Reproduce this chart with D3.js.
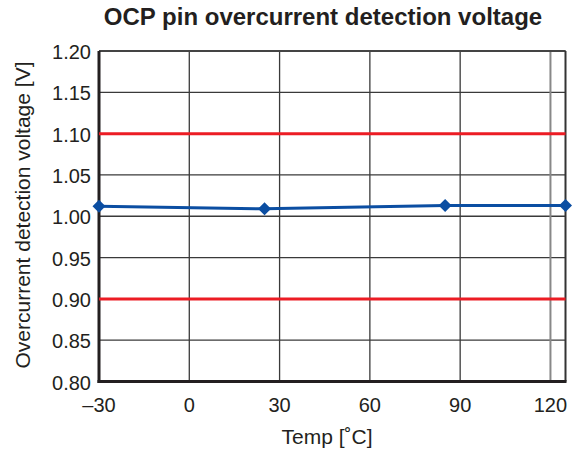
<!DOCTYPE html>
<html><head><meta charset="utf-8">
<script src="https://cdn.jsdelivr.net/npm/d3@7"></script>
<style>body{margin:0;background:#fff}svg{display:block}text{font-family:"Liberation Sans",Arial,sans-serif;fill:#231f20}</style>
</head><body><svg id="c" width="581" height="455"></svg>
<script>
const temps = [-30, 25, 85, 125];
const voltages = [1.012, 1.009, 1.013, 1.013];
const limitHigh = 1.10;
const limitLow = 0.90;
const xTicks = [-30, 0, 30, 60, 90, 120];
const yTicks = [0.80, 0.85, 0.90, 0.95, 1.00, 1.05, 1.10, 1.15, 1.20];
const title = "OCP pin overcurrent detection voltage";
const xLabel = "Temp [˚C]";
const yLabel = "Overcurrent detection voltage [V]";

const L = 99, R = 565.5, T = 51, B = 381.5;
const svg = d3.select("#c");
const x = d3.scaleLinear().domain([-30, 125]).range([L, R]);
const y = d3.scaleLinear().domain([0.80, 1.20]).range([B, T]);

// grid
svg.append("g").selectAll("line").data(yTicks).join("line")
  .attr("x1", L).attr("x2", R).attr("y1", d => y(d)).attr("y2", d => y(d))
  .attr("stroke", "#3a3a3a").attr("stroke-width", 1.3);
svg.append("g").selectAll("line").data(xTicks).join("line")
  .attr("y1", T).attr("y2", B).attr("x1", d => x(d)).attr("x2", d => x(d))
  .attr("stroke", d => d === 120 ? "#888" : "#3a3a3a").attr("stroke-width", d => d === 120 ? 2 : 1.3);

// frame
svg.append("line").attr("x1", L).attr("x2", R).attr("y1", T).attr("y2", T).attr("stroke", "#444").attr("stroke-width", 2);
svg.append("line").attr("x1", R).attr("x2", R).attr("y1", T).attr("y2", B).attr("stroke", "#333").attr("stroke-width", 2);
svg.append("line").attr("x1", L).attr("x2", L).attr("y1", T).attr("y2", B + 1.5).attr("stroke", "#231f20").attr("stroke-width", 3);
svg.append("line").attr("x1", L - 1.5).attr("x2", R + 1).attr("y1", B).attr("y2", B).attr("stroke", "#231f20").attr("stroke-width", 3);

// limit lines
svg.append("g").selectAll("line").data([limitHigh, limitLow]).join("line")
  .attr("x1", L).attr("x2", R).attr("y1", d => y(d)).attr("y2", d => y(d))
  .attr("stroke", "#ec1c24").attr("stroke-width", 3);

// series
const pts = temps.map((t, i) => [t, voltages[i]]);
svg.append("path").datum(pts)
  .attr("d", d3.line().x(d => x(d[0])).y(d => y(d[1])))
  .attr("fill", "none").attr("stroke", "#0b4ea2").attr("stroke-width", 3);
svg.append("g").selectAll("path").data(pts).join("path")
  .attr("transform", d => `translate(${x(d[0])},${y(d[1])})`)
  .attr("d", "M0,-6.5L6.5,0L0,6.5L-6.5,0Z").attr("fill", "#0b4ea2");

// tick labels
svg.append("g").selectAll("text").data(yTicks).join("text")
  .attr("x", 91).attr("y", d => y(d)).attr("dy", "0.4em").attr("text-anchor", "end")
  .attr("font-size", 20).text(d => d.toFixed(2));
svg.append("g").selectAll("text").data(xTicks).join("text")
  .attr("x", d => x(d)).attr("y", 412).attr("text-anchor", "middle")
  .attr("font-size", 20).text(d => d < 0 ? "–" + Math.abs(d) : d);

// labels
svg.append("text").attr("x", 323).attr("y", 25).attr("text-anchor", "middle")
  .attr("font-size", 24).attr("font-weight", "bold").text(title);
svg.append("text").attr("x", 327).attr("y", 443.5).attr("text-anchor", "middle")
  .attr("font-size", 21).text(xLabel);
svg.append("text").attr("transform", "translate(30,215) rotate(-90)").attr("text-anchor", "middle")
  .attr("font-size", 21).text(yLabel);
</script></body></html>
